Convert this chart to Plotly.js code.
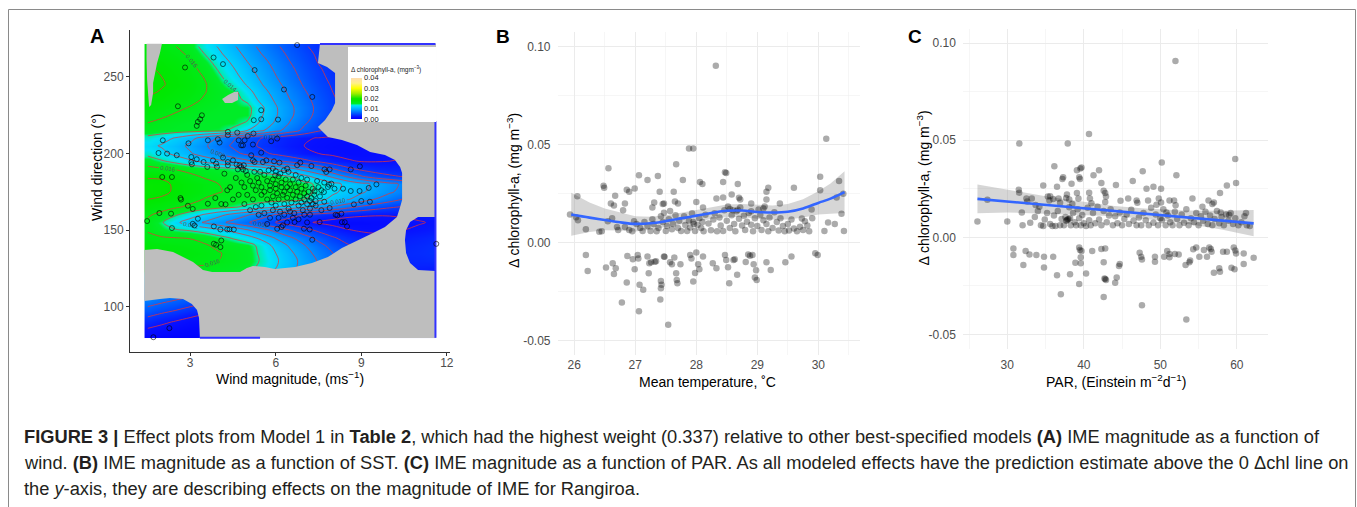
<!DOCTYPE html>
<html><head><meta charset="utf-8">
<script src="https://cdn.plot.ly/plotly-3.0.1.min.js"></script>
<style>html,body{margin:0;padding:0;background:#fff;} #fig{width:1357px;height:507px;}</style>
</head><body><div id="fig"></div>
<script>
// ================= DATA =================
// ---- Panel A: GAM effect surface, wind magnitude x wind direction ----
const windGrid = [1.5,2,2.5,3,3.5,4,4.5,5,5.5,6,6.5,7,7.5,8,8.5,9,9.5,10,10.5,11,11.5];
const dirGrid = [80,85,90,95,100,105,110,115,120,125,130,135,140,145,150,155,160,165,170,175,180,185,190,195,200,205,210,215,220,225,230,235,240,245,250,255,260,265,270];
const heatExtentWind = [1.4, 11.6];
const heatExtentDir = [79.7, 271.4];
// predicted delta chlorophyll-a, in 10^-3 mg m^-3 (one row per wind direction in dirGrid)
const zRowsMilli = [
 [1.0,0.6,0.3,0.2,0.2,0.2,0.2,0.2,0.2,0.2,0.2,0.2,0.2,0.2,0.2,0.2,0.2,0.2,0.2,0.2,0.2],
 [1.8,1.3,0.9,0.6,0.5,0.5,0.5,0.5,0.5,0.5,0.5,0.5,0.5,0.5,0.5,0.5,0.5,0.5,0.5,0.5,0.5],
 [3.0,2.4,1.8,1.3,1.0,0.9,0.9,0.9,0.9,0.9,0.9,0.9,0.9,0.8,0.8,0.7,0.7,0.6,0.6,0.6,0.6],
 [4.5,3.8,3.2,2.5,2.0,1.8,1.7,1.6,1.6,1.5,1.5,1.4,1.4,1.3,1.2,1.1,1.0,0.9,0.9,0.8,0.8],
 [6.0,5.3,4.7,4.0,3.4,3.0,2.8,2.6,2.5,2.4,2.3,2.2,2.0,1.9,1.7,1.6,1.4,1.3,1.2,1.1,1.0],
 [7.5,6.8,6.2,5.5,4.8,4.4,4.2,4.1,4.0,3.9,3.7,3.4,3.1,2.8,2.5,2.2,2.0,1.8,1.6,1.5,1.4],
 [9.0,8.7,8.5,8.4,8.4,8.5,8.6,8.6,8.3,7.8,7.1,6.3,5.4,4.6,3.8,3.2,2.7,2.3,2.0,1.8,1.7],
 [10.5,10.6,10.8,11.0,11.2,11.3,11.2,11.0,10.5,9.7,8.7,7.6,6.5,5.4,4.5,3.7,3.1,2.6,2.3,2.1,2.0],
 [13.0,13.2,13.5,13.8,14.0,14.6,14.6,13.8,12.5,11.3,10.0,8.7,7.4,6.2,5.1,4.2,3.5,3.0,2.6,2.4,2.3],
 [15.5,15.6,15.7,15.8,15.7,15.4,15.0,14.6,13.4,12.0,10.6,9.2,7.8,6.5,5.3,4.4,3.7,3.2,2.8,2.6,2.5],
 [17.0,16.9,16.8,16.6,16.4,16.0,15.6,15.0,13.8,12.3,10.8,9.3,7.8,6.4,5.2,4.3,3.6,3.2,3.0,3.0,3.1],
 [17.5,17.3,17.1,16.9,16.6,16.1,15.6,15.0,13.6,12.0,10.4,8.8,7.3,6.0,4.9,4.0,3.4,3.1,3.1,3.2,3.4],
 [17.2,17.0,16.8,16.6,16.2,15.6,15.2,14.8,13.4,11.3,9.7,8.1,6.6,5.3,4.2,3.4,2.9,2.8,2.9,3.1,3.3],
 [16.5,16.2,16.0,15.9,15.4,14.6,13.8,12.8,11.4,9.8,8.3,6.8,5.4,4.2,3.3,2.7,2.4,2.4,2.6,2.8,3.0],
 [15.8,14.8,14.2,13.8,13.2,12.4,11.4,10.2,8.8,7.4,6.0,4.7,3.6,2.7,2.1,1.8,1.7,1.8,2.0,2.2,2.4],
 [15.6,14.2,12.4,11.0,9.8,8.6,7.4,6.2,5.0,3.9,3.0,2.3,1.8,1.5,1.3,1.3,1.4,1.5,1.7,1.9,2.1],
 [16.3,15.4,14.2,13.0,11.8,10.6,9.4,8.2,7.0,5.8,4.8,4.0,3.3,2.8,2.4,2.2,2.1,2.1,2.2,2.3,2.4],
 [17.2,16.8,16.2,15.6,15.0,14.6,14.2,13.6,12.8,12.0,11.2,10.2,9.0,7.8,6.6,5.6,4.8,4.2,3.8,3.5,3.3],
 [18.0,17.8,17.3,16.6,15.9,15.4,15.1,14.9,14.8,14.7,14.6,14.0,12.6,11.4,10.2,9.0,7.9,6.8,5.8,4.9,4.2],
 [18.5,18.3,17.8,17.2,16.6,16.1,15.7,15.4,15.3,15.2,15.0,14.7,13.5,12.4,11.4,10.3,9.3,8.3,7.3,6.4,5.6],
 [18.5,18.3,17.8,17.2,16.6,16.0,15.6,15.3,15.2,15.1,14.9,14.6,13.6,12.6,11.6,10.6,9.6,8.6,7.6,6.6,5.8],
 [17.8,17.8,17.4,16.4,15.8,15.3,15.0,14.8,14.8,14.6,14.0,12.6,11.2,9.6,7.8,6.2,5.0,4.3,3.9,3.6,3.4],
 [16.5,16.2,15.8,15.4,15.0,14.6,14.3,14.0,13.2,11.8,10.5,9.2,7.8,6.0,4.5,3.5,3.0,2.8,2.8,2.9,3.0],
 [15.0,14.2,13.4,12.4,11.4,10.4,9.4,8.4,7.4,6.4,5.4,4.5,3.6,2.8,2.2,1.9,1.9,2.0,2.1,2.2,2.3],
 [13.5,12.6,11.4,10.2,9.0,7.8,6.6,5.5,4.5,3.6,2.9,2.3,2.0,1.7,1.5,1.5,1.6,1.7,1.8,1.9,2.0],
 [12.6,11.8,10.8,9.6,8.3,7.0,5.7,4.6,3.7,3.0,2.4,2.0,1.7,1.5,1.4,1.5,1.6,1.7,1.8,1.9,2.0],
 [13.4,12.8,11.8,10.6,9.2,7.8,6.3,5.0,4.0,3.2,2.6,2.2,1.9,1.7,1.6,1.6,1.7,1.8,1.9,2.0,2.1],
 [15.4,15.0,14.8,14.7,14.6,14.5,13.6,12.0,10.3,8.6,7.0,5.5,4.2,3.2,2.5,2.1,1.9,1.9,1.9,2.0,2.1],
 [16.0,15.6,15.1,14.8,14.7,14.7,14.6,13.8,11.6,9.7,7.9,6.3,4.9,3.8,3.0,2.5,2.2,2.1,2.0,2.0,2.0],
 [16.6,16.3,15.8,15.3,14.9,14.7,14.7,14.6,12.2,10.2,8.4,6.8,5.4,4.2,3.4,2.8,2.5,2.4,2.3,2.2,2.1],
 [17.2,16.9,16.4,15.9,15.3,14.9,14.7,14.6,12.4,10.2,8.4,6.9,5.5,4.3,3.5,2.9,2.6,2.5,2.4,2.3,2.2],
 [17.8,17.5,17.0,16.5,15.8,15.1,14.7,13.6,11.4,9.7,8.0,6.6,5.3,4.2,3.4,2.9,2.6,2.5,2.4,2.3,2.2],
 [18.2,17.9,17.4,16.9,16.1,15.2,14.6,12.8,10.8,9.2,7.6,6.2,5.0,4.0,3.3,2.8,2.5,2.4,2.3,2.2,2.1],
 [18.3,18.1,17.7,17.1,16.2,14.9,13.6,11.8,10.1,8.6,7.1,5.8,4.7,3.8,3.1,2.6,2.4,2.3,2.2,2.1,2.0],
 [18.3,18.0,17.6,16.9,15.9,14.4,12.8,11.1,9.6,8.1,6.7,5.5,4.4,3.6,3.0,2.5,2.3,2.2,2.1,2.0,1.9],
 [18.1,17.9,17.4,16.6,15.4,13.8,12.2,10.6,9.1,7.7,6.4,5.2,4.2,3.4,2.8,2.4,2.2,2.1,2.0,1.9,1.8],
 [17.8,17.6,17.1,16.2,14.8,13.1,11.6,10.0,8.6,7.3,6.0,4.9,3.9,3.2,2.7,2.3,2.1,2.0,1.9,1.8,1.7],
 [17.4,17.2,16.6,15.6,14.0,12.4,10.9,9.4,8.0,6.8,5.6,4.6,3.7,3.0,2.5,2.2,2.0,1.9,1.8,1.7,1.6],
 [17.0,16.8,16.0,15.0,13.2,11.8,10.3,8.8,7.5,6.3,5.2,4.2,3.4,2.8,2.4,2.1,1.9,1.8,1.7,1.6,1.5]
];
// region outside the data support (grey), [wind, direction]
const maskMain = [[7.55,271.5],[11.62,271.5],[11.62,158.5],[10.99,158.5],[10.71,155.3],[10.57,150.1],[10.53,143.6],[10.57,135.0],[10.71,128.5],[10.99,124.0],[11.62,123.3],[11.62,79.6],[3.34,79.6],[3.31,92.6],[3.24,97.8],[3.06,101.8],[2.75,105.0],[2.29,105.7],[1.94,105.0],[1.59,104.4],[1.39,103.7],[1.39,137.0],[1.84,137.7],[2.40,135.7],[2.75,132.4],[3.10,129.2],[3.45,124.0],[3.77,122.6],[4.75,122.6],[4.99,125.3],[5.20,126.6],[5.62,125.9],[5.97,124.6],[6.50,125.3],[6.68,125.9],[7.27,128.5],[7.83,132.4],[8.32,138.3],[8.88,143.6],[9.41,148.1],[9.83,152.0],[10.25,158.5],[10.36,165.0],[10.43,169.6],[10.43,187.2],[10.36,191.2],[10.18,195.7],[9.83,199.0],[9.31,201.0],[8.85,205.5],[8.32,208.8],[7.83,210.7],[7.48,217.3],[7.73,221.8],[7.97,228.3],[8.08,233.0],[8.08,252.5],[7.80,256.4],[7.48,259.0],[7.55,271.5]];
const maskWedge = [[1.47,271.5],[2.01,271.5],[1.94,265.5],[1.84,259.0],[1.77,252.5],[1.70,246.0],[1.70,239.4],[1.63,231.6],[1.56,230.3],[1.52,239.4],[1.49,247.9],[1.47,261.0]];
const maskNotch = [[4.12,235.5],[4.33,238.1],[4.54,240.1],[4.68,240.1],[4.68,234.9],[4.47,232.9],[4.22,232.9]];
const edgeStrips = [[[7.55,271.4],[11.6,271.4]],[[11.6,221],[11.6,79.7]],[[3.34,79.7],[5.45,79.7]]];
// observations [wind magnitude, wind direction]
const windObs = [[6.75,270.7],[3.82,262.6],[4.15,258.3],[2.82,256.1],[5.26,254.4],[6.29,241.7],[7.28,236.9],[2.57,230.8],[5.49,228.2],[3.41,224.9],[3.35,222.3],[3.27,220.6],[3.23,218.0],[5.23,221.7],[5.49,222.3],[6.08,222.1],[5.22,213.0],[4.65,213.6],[4.32,214.1],[4.32,211.9],[2.04,208.6],[3.62,208.6],[3.97,209.3],[4.03,207.1],[4.70,208.6],[4.79,205.3],[4.91,208.6],[5.02,211.4],[5.84,208.0],[6.05,209.7],[2.94,206.6],[4.85,205.3],[5.20,205.8],[5.49,200.5],[1.89,200.3],[2.19,199.9],[2.53,198.8],[3.04,197.7],[3.23,196.2],[3.47,194.4],[3.80,195.5],[3.91,193.4],[3.94,191.2],[4.15,197.3],[4.32,194.4],[4.32,192.3],[4.50,195.5],[3.04,194.4],[3.06,192.9],[3.60,191.2],[4.20,186.8],[4.63,192.7],[4.73,192.3],[4.79,191.2],[4.88,192.3],[4.67,189.6],[4.85,189.6],[5.14,198.8],[5.20,195.5],[5.26,194.4],[5.55,194.4],[5.67,195.5],[5.94,194.9],[6.13,194.0],[6.40,190.1],[6.29,189.0],[6.75,192.3],[6.86,194.0],[7.25,191.8],[5.90,190.1],[5.98,185.7],[6.16,186.8],[7.71,189.6],[7.89,189.6],[7.77,187.9],[7.95,180.3],[8.63,189.6],[8.95,191.6],[2.02,184.6],[2.36,184.6],[9.53,179.8],[9.26,177.5],[8.94,175.5],[8.63,175.5],[8.36,177.0],[8.06,177.0],[7.83,178.1],[7.87,179.6],[7.69,174.8],[7.36,175.3],
[1.49,155.9],[1.92,161.1],[2.33,160.7],[2.36,151.3],[2.66,170.9],[2.68,169.9],[2.92,165.9],[3.09,163.8],[3.09,154.1],[3.15,153.0],[3.62,167.2],[3.88,170.9],[4.09,167.0],[4.24,166.8],[3.83,152.4],[4.06,150.4],[4.30,150.4],[4.38,150.5],[4.53,150.4],[4.09,143.2],[4.06,138.9],[3.91,140.4],[3.83,141.1],[3.27,157.4],
[6.05,150.9],[6.25,153.1],[6.66,155.2],[6.99,150.9],[7.19,150.4],[7.54,155.2],[7.89,164.4],[8.16,159.6],[8.30,160.7],[8.42,155.2],[8.50,152.4],[8.74,166.8],[8.32,155.2],[8.10,160.0],[7.28,143.7],[11.63,141.0],[2.27,86.0],[1.71,80.1],[9.3,168.5],[9.0,169.0],[7.4,166.0],[7.7,168.5],[7.6,163.0],[7.2,160.0],
[4.6,184],[4.8,181],[4.9,178],[5.0,186],[5.1,182],[5.2,179],[5.3,176],[5.35,184],[5.4,181],[5.5,178],[5.5,173],[5.6,186],[5.6,175],[5.7,182],[5.7,170],[5.8,179],[5.8,176],[5.85,168],[5.9,183],[5.9,172],[6.0,180],[6.0,177],[6.0,166],[6.05,174],[6.1,185],[6.1,170],[6.15,162],[6.2,178],[6.2,181],[6.25,173],[6.3,167],[6.3,175],[6.35,183],[6.4,178],[6.4,171],[6.45,164],[6.5,180],[6.5,176],[6.55,168],[6.6,173],[6.6,183],[6.65,161],[6.7,178],[6.7,170],[6.75,175],[6.8,166],[6.8,181],[6.85,172],[6.9,177],[6.9,168],[6.95,163],[7.0,174],[7.0,170],[7.05,179],[7.1,167],[7.1,172],[7.15,175],[7.2,169],[7.2,164],[7.25,171],[7.3,167],[7.3,177],[7.35,173],[7.4,169],[5.2,170],[5.3,165],[5.5,166],[5.6,161],[5.8,158],[5.9,163],[6.1,158],[6.3,160],[6.4,155],[6.5,162],[6.6,158],[6.8,157],[7.0,160],[7.1,155],[6.2,152],[5.7,154],[5.4,160],[5.1,163],[4.9,167],[4.7,173],[4.5,170],[4.4,178],[4.3,176],[5.0,173],[5.45,188],[5.25,188],[4.95,188.5],[6.7,186],[6.9,184],[7.1,183],[7.45,182],[6.45,188],[5.75,189],[6.0,188.5],[7.5,178],[7.55,172],[7.6,176],[7.7,181]];

// ---- Panel B: mean temperature (deg C) vs delta chl-a ----
const tempObs = [[28.32,0.0903],[30.13,0.053],[27.88,0.048],[27.95,0.048],[27.67,0.040],[26.56,0.038],[27.06,0.0344],[27.37,0.034],[27.2,0.032],[28.47,0.036],[28.49,0.0355],[30.03,0.0336],[30.34,0.0315],[27.78,0.032],[28.06,0.031],[28.1,0.030],[26.48,0.029],[26.49,0.028],[28.44,0.031],[28.68,0.030],[29.6,0.028],[29.18,0.028],[29.15,0.026],[26.05,0.0237],[26.67,0.024],[26.86,0.027],[26.9,0.026],[26.99,0.0276],[27.4,0.026],[27.63,0.026],[30.03,0.0268],[30.41,0.025],[30.3,0.023],[26.6,0.020],[26.65,0.019],[26.83,0.020],[26.8,0.0166],[27.31,0.0205],[27.28,0.018],[27.45,0.0197],[27.47,0.020],[27.65,0.021],[27.7,0.020],[28.0,0.0208],[28.11,0.018],[28.33,0.0225],[28.44,0.023],[28.58,0.0246],[28.7,0.0229],[28.72,0.022],[28.9,0.020],[29.37,0.020],[29.89,0.017],[29.15,0.022],[30.16,0.0103],[29.73,0.0124],[29.78,0.011],[25.93,0.0144],[26.06,0.0115],[26.03,0.013],[26.19,0.0068],[26.41,0.0056],
[26.7,0.008],[26.72,0.0065],[26.83,0.008],[26.9,0.0065],[26.95,0.0058],[26.98,0.011],[27.02,0.0095],[27.08,0.0075],[27.12,0.006],[27.15,0.0105],[27.2,0.0085],[27.25,0.006],[27.28,0.012],[27.3,0.0095],[27.35,0.0058],[27.38,0.0075],[27.42,0.0135],[27.45,0.0105],[27.5,0.006],[27.52,0.0085],[27.55,0.012],[27.6,0.0068],[27.62,0.0095],[27.66,0.014],[27.7,0.0075],[27.72,0.0112],[27.75,0.006],[27.8,0.0135],[27.82,0.009],[27.85,0.006],[27.88,0.0112],[27.9,0.0078],[27.93,0.015],[27.96,0.0095],[27.98,0.006],[28.02,0.009],[28.05,0.0125],[28.08,0.0075],[28.12,0.0058],[28.15,0.0142],[28.2,0.0098],[28.24,0.0064],[28.28,0.0118],[28.3,0.015],[28.34,0.0058],[28.38,0.0128],[28.4,0.0088],[28.44,0.006],[28.46,0.0166],[28.5,0.0112],[28.52,0.0185],[28.55,0.0075],[28.58,0.014],[28.6,0.0165],[28.62,0.0095],[28.64,0.0058],[28.66,0.016],[28.7,0.0122],[28.72,0.018],[28.75,0.0088],[28.78,0.0138],[28.8,0.0065],[28.83,0.0107],[28.86,0.0152],[28.9,0.0092],[28.93,0.0058],[28.96,0.0125],[29.0,0.0085],[29.02,0.017],[29.05,0.0142],[29.07,0.0065],[29.1,0.0115],[29.12,0.0185],[29.15,0.0095],[29.18,0.0058],[29.2,0.0128],[29.25,0.0075],[29.28,0.0155],[29.32,0.0105],[29.35,0.0062],[29.38,0.0125],[29.42,0.0085],[29.45,0.0058],[29.5,0.0095],[29.52,0.0062],[29.56,0.0118],[29.6,0.0072],[29.65,0.0058],[29.7,0.0082],[29.75,0.0065],[29.82,0.0088],[29.85,0.0058],[29.9,0.0125],[30.1,0.006],[30.42,0.006],[30.38,0.0148],[30.27,0.0095],[26.55,0.011],[26.45,0.0058],[26.62,0.0125],[27.47,0.0153],[27.57,0.0162],[28.55,0.0172],[28.68,0.0168],[28.1,0.0105],[27.95,0.0105],[28.9,0.016],[29.1,0.0175],
[26.19,-0.0063],[26.22,-0.0144],[26.52,-0.0127],[26.63,-0.0105],[26.65,-0.016],[26.68,-0.013],[26.78,-0.0305],[26.86,-0.0203],[26.87,-0.0068],[26.96,-0.0085],[26.99,-0.0136],[27.04,-0.0063],[27.05,-0.008],[27.07,-0.0215],[27.06,-0.035],[27.13,-0.024],[27.2,-0.007],[27.23,-0.0105],[27.26,-0.010],[27.22,-0.0156],[27.32,-0.0097],[27.34,-0.0095],[27.42,-0.0195],[27.43,-0.0215],[27.42,-0.0232],[27.41,-0.029],[27.47,-0.007],[27.48,-0.0072],[27.54,-0.0418],[27.57,-0.010],[27.6,-0.011],[27.64,-0.0076],[27.67,-0.0156],[27.68,-0.019],[27.69,-0.0207],[27.74,-0.011],[27.9,-0.0063],[27.92,-0.008],[27.95,-0.0198],[27.98,-0.0155],[28.0,-0.005],[28.03,-0.011],[28.05,-0.0136],[28.11,-0.007],[28.27,-0.0105],[28.33,-0.013],[28.47,-0.0063],[28.49,-0.0088],[28.52,-0.0125],[28.54,-0.0207],[28.61,-0.0088],[28.63,-0.0085],[28.67,-0.0164],[28.81,-0.0098],[28.85,-0.006],[28.88,-0.0066],[28.92,-0.0063],[28.94,-0.011],[28.96,-0.0178],[28.98,-0.014],[28.99,-0.019],[29.15,-0.010],[29.22,-0.0139],[29.46,-0.010],[29.56,-0.0071],[29.95,-0.0054],[29.99,-0.0063]];
const tempFitX = [25.95,26.25,26.5,26.75,27,27.25,27.5,27.75,28,28.25,28.5,28.75,29,29.25,29.5,29.75,30,30.2,30.43];
const tempFit  = [0.0144,0.0128,0.0116,0.0104,0.0096,0.0099,0.011,0.0124,0.0138,0.0152,0.0163,0.0164,0.0157,0.0154,0.0158,0.0175,0.0203,0.0225,0.0258];
const tempUpper= [0.0255,0.0205,0.0175,0.0153,0.0135,0.0132,0.014,0.0153,0.0168,0.0183,0.0195,0.0197,0.0192,0.019,0.0198,0.0222,0.0262,0.0302,0.0365];
const tempLower= [0.0035,0.0055,0.0063,0.0062,0.0057,0.0066,0.008,0.0095,0.0108,0.0121,0.0131,0.0131,0.0122,0.0118,0.0118,0.0128,0.0144,0.0148,0.0151];

// ---- Panel C: PAR vs delta chl-a ----
const parObs = [[51.98,0.0909],[40.68,0.0533],[31.57,0.0483],[37.9,0.0483],[59.79,0.0403],[50.19,0.0386],[36.15,0.0366],[39.7,0.036],[39.55,0.0355],[37.3,0.031],[37.2,0.030],[41.99,0.0345],[39.1,0.0345],[39.4,0.031],[39.5,0.030],[52.1,0.032],[47.7,0.034],[46.4,0.029],[59.9,0.028],[58.7,0.0267],[41.27,0.032],[42.3,0.028],[36.5,0.026],[34.7,0.0267],[38.4,0.0276],[44.2,0.027],[48.2,0.025],[49.1,0.026],[50.1,0.025],[57.8,0.0228],[31.5,0.0245],[31.55,0.023],[27.4,0.0193],[26.1,0.0081],[30.0,0.0081],[32.5,0.020],[32.6,0.0185],[33.2,0.020],[33.7,0.0167],[35.3,0.021],[35.6,0.0212],[35.5,0.019],[36.7,0.020],[36.9,0.0178],[37.8,0.022],[37.7,0.0202],[38.1,0.0195],[39.1,0.0228],[39.3,0.020],[40.7,0.023],[40.8,0.020],[42.6,0.024],[42.8,0.0228],[42.9,0.021],[45.8,0.020],[46.9,0.019],[48.4,0.019],[49.8,0.020],[50.1,0.018],[51.2,0.019],[51.8,0.019],[54.2,0.020],[56.3,0.019],[57.0,0.018],[32.0,0.0062],[31.9,0.0128],
[33.0,0.0075],[33.6,0.0105],[34.0,0.0135],[34.4,0.0062],[34.7,0.0058],[34.9,0.0092],[35.2,0.0125],[35.6,0.0068],[35.9,0.0058],[36.1,0.0112],[36.3,0.0058],[36.6,0.0135],[36.9,0.0062],[37.1,0.0095],[37.4,0.0062],[37.6,0.0105],[37.8,0.0088],[37.9,0.0092],[38.1,0.0155],[38.3,0.0062],[38.6,0.0125],[38.8,0.0078],[39.0,0.0062],[39.2,0.0145],[39.4,0.0098],[39.6,0.0062],[39.8,0.0115],[40.0,0.0072],[40.3,0.0058],[40.5,0.0152],[40.7,0.0088],[40.9,0.0062],[41.2,0.0125],[41.5,0.0072],[41.8,0.0158],[42.0,0.0092],[42.3,0.0062],[42.6,0.0135],[42.8,0.0182],[43.0,0.0078],[43.3,0.0112],[43.5,0.0145],[43.8,0.0062],[44.1,0.0108],[44.4,0.0072],[44.7,0.0128],[45.0,0.0062],[45.3,0.0095],[45.6,0.0118],[45.9,0.0068],[46.2,0.0142],[46.5,0.0085],[46.9,0.0062],[47.2,0.0102],[47.5,0.0062],[47.8,0.0125],[48.1,0.0088],[48.5,0.0062],[48.8,0.0152],[49.1,0.0075],[49.4,0.0118],[49.7,0.0062],[50.0,0.0098],[50.2,0.0088],[50.4,0.0145],[50.7,0.0062],[51.0,0.0112],[51.3,0.0078],[51.6,0.0062],[51.9,0.0132],[52.2,0.0095],[52.5,0.0062],[52.8,0.0118],[53.1,0.0075],[53.4,0.0145],[53.7,0.0062],[54.0,0.0098],[54.4,0.0078],[54.7,0.0125],[55.0,0.0062],[55.3,0.0108],[55.6,0.0085],[55.9,0.0132],[56.2,0.0068],[56.5,0.0112],[56.8,0.0062],[57.1,0.0095],[57.4,0.0135],[57.7,0.0072],[58.0,0.0105],[58.3,0.0062],[58.6,0.0118],[58.9,0.0085],[59.2,0.0125],[59.5,0.0068],[59.8,0.0098],[60.2,0.0062],[60.6,0.0078],[61.0,0.0108],[61.3,0.0062],[61.7,0.0058],[61.2,0.0125],[55.5,0.0158],[56.8,0.0172],[52.0,0.0165],[49.5,0.0168],[47.0,0.0178],[44.8,0.0188],[41.0,0.0175],[34.2,0.0158],[36.0,0.0198],[38.5,0.0172],[50.8,0.0128],[57.9,0.0128],[59.0,0.0115],[38.0,0.0095],[38.2,0.0098],[37.7,0.0085],
[30.8,-0.0057],[30.8,-0.0091],[32.1,-0.0143],[32.4,-0.0071],[32.9,-0.0088],[33.8,-0.0091],[34.8,-0.0155],[34.8,-0.010],[36.0,-0.010],[36.5,-0.0195],[37.0,-0.0293],[38.2,-0.019],[38.9,-0.0131],[39.4,-0.0053],[39.5,-0.0066],[39.6,-0.0103],[39.6,-0.0134],[39.4,-0.0241],[39.7,-0.0071],[40.3,-0.0186],[41.1,-0.0071],[42.3,-0.006],[42.8,-0.0057],[42.6,-0.0129],[42.6,-0.0307],[42.7,-0.0212],[42.8,-0.0215],[42.9,-0.022],[44.1,-0.0234],[44.3,-0.0207],[44.6,-0.0148],[44.7,-0.0138],[47.3,-0.0079],[47.5,-0.010],[47.6,-0.0114],[47.6,-0.035],[49.3,-0.010],[49.3,-0.0126],[50.5,-0.010],[50.9,-0.007],[51.2,-0.0086],[51.2,-0.0103],[51.9,-0.0086],[52.4,-0.0088],[53.3,-0.0143],[53.8,-0.0129],[53.9,-0.0119],[53.4,-0.0424],[54.3,-0.0062],[54.7,-0.0052],[55.1,-0.010],[55.7,-0.0066],[56.1,-0.010],[56.4,-0.0053],[56.6,-0.006],[56.7,-0.0074],[57.0,-0.0183],[57.7,-0.016],[57.8,-0.0178],[58.2,-0.0074],[58.7,-0.0074],[59.3,-0.0157],[59.7,-0.0164],[59.6,-0.0053],[59.8,-0.0068],[59.9,-0.0083],[60.9,-0.0083],[60.9,-0.0138],[62.2,-0.0105]];
const parFitX  = [26.1,30,35,40,44,48,53,58,62.2];
const parFit   = [0.0198,0.0184,0.0167,0.0149,0.0135,0.0121,0.0104,0.0086,0.0072];
const parUpper = [0.0272,0.0245,0.0212,0.0183,0.0162,0.0148,0.0138,0.0137,0.0141];
const parLower = [0.0124,0.0128,0.0122,0.0113,0.0108,0.0095,0.0072,0.0040,0.0005];

const chlTicks = [-0.05,0,0.05,0.10];
const chlTickText = ['-0.05','0.00','0.05','0.10'];
const legendTicks = [0,0.01,0.02,0.03,0.04];

// ================= BUILD =================
const W = 1357, H = 507;
const fx = p => p / W, fy = p => 1 - p / H;
const FONT = 'Liberation Sans, Arial, Helvetica, sans-serif';
const TICKCOL = '#4d4d4d';

const mid = (a,i) => (a[i] + a[i+1]) / 2;
const windEdges = [heatExtentWind[0]].concat(windGrid.slice(0,-1).map((v,i)=>mid(windGrid,i)), [heatExtentWind[1]]);
const dirEdges = [heatExtentDir[0]].concat(dirGrid.slice(0,-1).map((v,i)=>mid(dirGrid,i)), [heatExtentDir[1]]);
const zChl = zRowsMilli.map(r => r.map(v => v / 1000));

const cscale = [[0,'#0000ff'],[0.05,'#0812ff'],[0.125,'#0050ff'],[0.2,'#008cff'],[0.275,'#00c0ff'],[0.325,'#00e2f6'],[0.352,'#00eda0'],[0.365,'#00ec28'],[0.45,'#00e800'],[0.5,'#10e600'],[0.625,'#a0ee00'],[0.75,'#ffff00'],[0.875,'#fff08a'],[1,'#ffdcb0']];

const poly = (pts, name) => ({type:'scatter', mode:'lines', x: pts.map(p=>p[0]), y: pts.map(p=>p[1]), fill:'toself', fillcolor:'#bebebe', line:{width:0, color:'#bebebe'}, hoverinfo:'skip', xaxis:'x', yaxis:'y', name});

const stripX = [], stripY = [];
edgeStrips.forEach(s => { s.forEach(p => { stripX.push(p[0]); stripY.push(p[1]); }); stripX.push(null); stripY.push(null); });

const traces = [
  {type:'heatmap', x: windEdges, y: dirEdges, z: zChl, zsmooth:'best', zmin:0, zmax:0.04, colorscale: cscale,
   xaxis:'x', yaxis:'y', hoverinfo:'skip', showscale:true,
   colorbar:{x: fx(351), xanchor:'left', xref:'paper', y: fy(119), yanchor:'bottom', yref:'paper',
     len:55, lenmode:'pixels', thickness:11, thicknessmode:'pixels', xpad:0, ypad:0, outlinewidth:0,
     bgcolor:'rgba(0,0,0,0)', tickvals: legendTicks, tickformat:'.2f', ticks:'', ticklabelposition:'outside',
     tickfont:{size:7.5, color:'#222', family:FONT},
     title:{text:'Δ chlorophyll-a, (mgm<sup>−3</sup>)', side:'top', font:{size:6.5, color:'#222', family:FONT}}}},
  {type:'contour', x: windGrid, y: dirGrid, z: zChl, xaxis:'x', yaxis:'y', showscale:false, hoverinfo:'skip',
   autocontour:false, contours:{start:0.002, end:0.02, size:0.002, coloring:'none', showlabels:true,
   labelfont:{size:6, color:'#555', family:FONT}, labelformat:'.3f'}, line:{color:'#e83434', width:0.75, smoothing:1}},
  poly(maskMain,'maskMain'), poly(maskWedge,'maskWedge'), poly(maskNotch,'maskNotch'),
  {type:'scatter', mode:'lines', x: stripX, y: stripY, line:{color:'#3232ff', width:2}, hoverinfo:'skip', xaxis:'x', yaxis:'y', connectgaps:false},
  {type:'scatter', mode:'markers', x: windObs.map(p=>p[0]), y: windObs.map(p=>p[1]), xaxis:'x', yaxis:'y', hoverinfo:'skip',
   marker:{symbol:'circle-open', size:5, color:'rgba(0,0,0,0.6)', line:{width:1}}},
  // Panel B
  {type:'scatter', mode:'lines', x: tempFitX.concat(tempFitX.slice().reverse()), y: tempUpper.concat(tempLower.slice().reverse()),
   fill:'toself', fillcolor:'rgba(153,153,153,0.4)', line:{width:0}, xaxis:'x2', yaxis:'y2', hoverinfo:'skip'},
  {type:'scatter', mode:'markers', x: tempObs.map(p=>p[0]), y: tempObs.map(p=>p[1]), xaxis:'x2', yaxis:'y2', hoverinfo:'skip',
   marker:{size:6.5, color:'rgba(0,0,0,0.33)', line:{width:0}}},
  {type:'scatter', mode:'lines', x: tempFitX, y: tempFit, line:{color:'#3366ff', width:2.6, shape:'spline'}, xaxis:'x2', yaxis:'y2', hoverinfo:'skip'},
  // Panel C
  {type:'scatter', mode:'lines', x: parFitX.concat(parFitX.slice().reverse()), y: parUpper.concat(parLower.slice().reverse()),
   fill:'toself', fillcolor:'rgba(153,153,153,0.4)', line:{width:0}, xaxis:'x3', yaxis:'y3', hoverinfo:'skip'},
  {type:'scatter', mode:'markers', x: parObs.map(p=>p[0]), y: parObs.map(p=>p[1]), xaxis:'x3', yaxis:'y3', hoverinfo:'skip',
   marker:{size:6.5, color:'rgba(0,0,0,0.33)', line:{width:0}}},
  {type:'scatter', mode:'lines', x: parFitX, y: parFit, line:{color:'#3366ff', width:2.6}, xaxis:'x3', yaxis:'y3', hoverinfo:'skip'}
];

const tickFont = {size:12, color:TICKCOL, family:FONT};
const minimalX = (dom, rng, tv, minorD, anchor, standoff) => ({domain:dom, range:rng, tickvals:tv, anchor, showline:false, zeroline:false, ticks:'',
  showgrid:true, gridcolor:'#ebebeb', gridwidth:1.1, minor:{dtick:minorD, showgrid:true, gridcolor:'#eeeeee', gridwidth:0.55},
  tickfont:tickFont, ticklabelstandoff:standoff});
const minimalY = (dom, anchor) => ({domain:dom, range:[-0.0575,0.1075], tickvals:chlTicks, ticktext:chlTickText, anchor, showline:false, zeroline:false, ticks:'',
  showgrid:true, gridcolor:'#ebebeb', gridwidth:1.1, minor:{tick0:0, dtick:0.025, showgrid:true, gridcolor:'#eeeeee', gridwidth:0.55},
  tickfont:tickFont, ticklabelstandoff:6});

const layout = {
  width:W, height:H, margin:{l:0,r:0,t:0,b:0}, paper_bgcolor:'#fff', plot_bgcolor:'#fff', showlegend:false,
  font:{family:FONT},
  xaxis:{domain:[fx(130), fx(450)], range:[0.89,12.11], tickvals:[3,6,9,12], anchor:'y', showline:true, linecolor:'#333', linewidth:1,
    ticks:'outside', ticklen:3, tickcolor:'#333', tickwidth:1, showgrid:false, zeroline:false, tickfont:tickFont, ticklabelstandoff:-3},
  yaxis:{domain:[fy(352), fy(30)], range:[70.45,280.55], tickvals:[100,150,200,250], anchor:'x', showline:true, linecolor:'#333', linewidth:1,
    ticks:'outside', ticklen:3, tickcolor:'#333', tickwidth:1, showgrid:false, zeroline:false, tickfont:tickFont},
  xaxis2: minimalX([fx(557.5), fx(859.5)], [25.725,30.675], [26,27,28,29,30], 0.5, 'y2', 1),
  yaxis2: minimalY([fy(355.4), fy(32)], 'x2'),
  xaxis3: minimalX([fx(962.9), fx(1268.2)], [24.2,64.1], [30,40,50,60], 5, 'y3', 7),
  yaxis3: minimalY([fy(348.9), fy(28.7)], 'x3'),
  shapes:[
    {type:'rect', xref:'paper', yref:'paper', x0:fx(348), x1:fx(436), y0:fy(122), y1:fy(47), fillcolor:'#ffffff', line:{width:0}, layer:'above'},
    {type:'rect', xref:'paper', yref:'paper', x0:fx(8.5), x1:fx(1355.5), y0:fy(520), y1:fy(9.5), line:{color:'#8a8a8a', width:1}, fillcolor:'rgba(0,0,0,0)', layer:'above'}
  ],
  annotations:[]
};

const ann = (text, x, y, opts) => Object.assign({text, xref:'paper', yref:'paper', x:fx(x), y:fy(y), showarrow:false, xanchor:'center', yanchor:'middle'}, opts||{});
const titleFont = {size:14, color:'#000', family:FONT};
layout.annotations.push(
  ann('<b>A</b>', 96.5, 35.5, {font:{size:20, color:'#000', family:FONT}}),
  ann('<b>B</b>', 503.5, 36.5, {font:{size:19, color:'#000', family:FONT}}),
  ann('<b>C</b>', 914.5, 36.5, {font:{size:19, color:'#000', family:FONT}}),
  ann('Wind magnitude, (ms<sup>−1</sup>)', 290, 378, {font:titleFont}),
  ann('Wind direction (°)', 97, 167, {font:titleFont, textangle:-90}),
  ann('Mean temperature, ˚C', 707, 382, {font:titleFont}),
  ann('Δ chlorophyll-a, (mg m<sup>−3</sup>)', 513, 191, {font:titleFont, textangle:-90}),
  ann('PAR, (Einstein m<sup>−2</sup>d<sup>−1</sup>)', 1116, 381, {font:titleFont}),
  ann('Δ chlorophyll-a, (mg m<sup>−3</sup>)', 923, 188.5, {font:titleFont, textangle:-90})
);
const capFont = {size:18, color:'#231f20', family:FONT};
const captionLines = [
  '<b>FIGURE 3 |</b> Effect plots from Model 1 in <b>Table 2</b>, which had the highest weight (0.337) relative to other best-specified models <b>(A)</b> IME magnitude as a function of',
  'wind. <b>(B)</b> IME magnitude as a function of SST. <b>(C)</b> IME magnitude as a function of PAR. As all modeled effects have the prediction estimate above the 0 Δchl line on',
  'the <i>y</i>-axis, they are describing effects on the magnitude of IME for Rangiroa.'
];
const captionY = [437, 463, 489];
const captionLine1Width = 1295;   // px span of the first caption line in the figure
captionLines.forEach((t,i) => layout.annotations.push(ann(t, 22, captionY[i], {xanchor:'left', align:'left', font:capFont, name:'caption'+i})));

Plotly.newPlot('fig', traces, layout, {staticPlot:true, displayModeBar:false}).then(gd => {
  // condensed caption typeface: squeeze the caption lines horizontally
  const texts = Array.from(gd.querySelectorAll('.annotation-text')).filter(t => /^(FIGURE|wind\.|the y)/.test(t.textContent));
  const first = texts.find(t => /^FIGURE/.test(t.textContent));
  if (!first) return;
  const ratio = captionLine1Width / first.getComputedTextLength();
  texts.forEach(t => {
    const w = t.getComputedTextLength();
    t.setAttribute('textLength', (w * ratio).toFixed(1));
    t.setAttribute('lengthAdjust', 'spacingAndGlyphs');
  });
});
</script></body></html>
